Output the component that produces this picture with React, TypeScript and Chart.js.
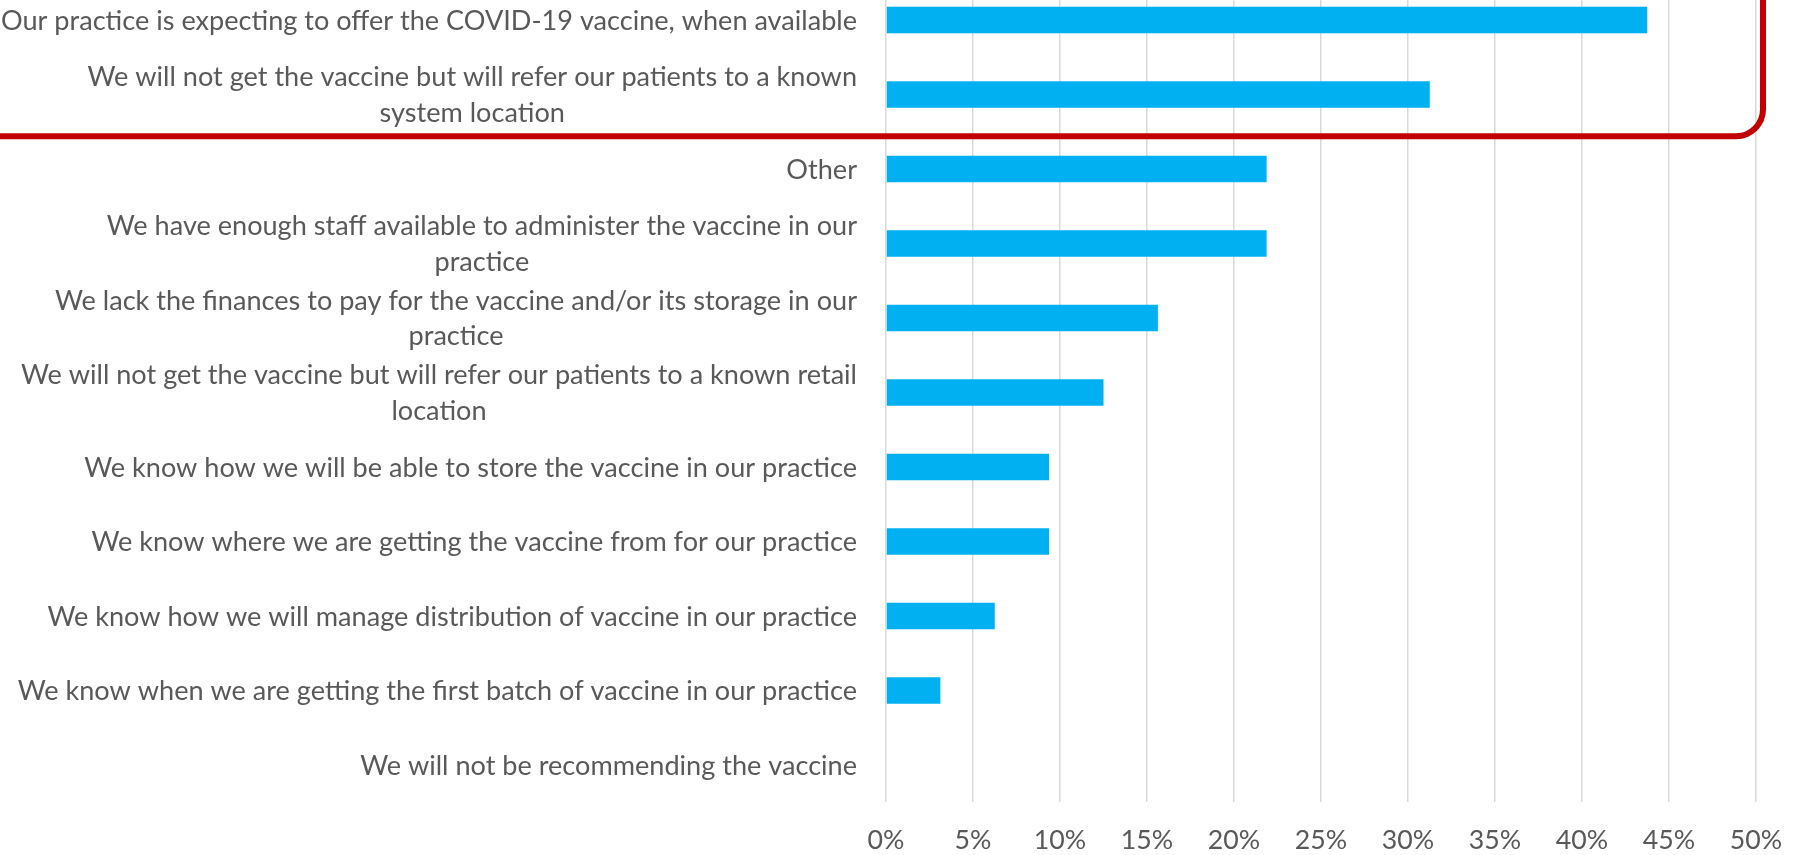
import React, { useEffect, useRef } from "react";
import { Chart, registerables } from "chart.js";

Chart.register(...registerables);

// ---------- data ----------
const categories: string[][] = [
  ["Our practice is expecting to offer the COVID-19 vaccine, when available"],
  ["We will not get the vaccine but will refer our patients to a known", "system location"],
  ["Other"],
  ["We have enough staff available to administer the vaccine in our", "practice"],
  ["We lack the finances to pay for the vaccine and/or its storage in our", "practice"],
  ["We will not get the vaccine but will refer our patients to a known retail", "location"],
  ["We know how we will be able to store the vaccine in our practice"],
  ["We know where we are getting the vaccine from for our practice"],
  ["We know how we will manage distribution of vaccine in our practice"],
  ["We know when we are getting the first batch of vaccine in our practice"],
  ["We will not be recommending the vaccine"],
];
const values: number[] = [43.75, 31.25, 21.875, 21.875, 15.625, 12.5, 9.375, 9.375, 6.25, 3.125, 0];
const xTickValues: number[] = [0, 5, 10, 15, 20, 25, 30, 35, 40, 45, 50];
const xTickLabels: string[] = ["0%", "5%", "10%", "15%", "20%", "25%", "30%", "35%", "40%", "45%", "50%"];

// ---------- style ----------
const W = 1799;
const H = 855;
const OFF = 40; // canvas shifted up so the plot starts above the page
const FONT = "Lato";
const FS = 27.1;
const TICK_FS = 26.7;
const TEXT = "#595959";
const BAR = "#00B0F0";
const GRID = "#D9D9D9";
const RED = "#C00000";

const catLabelPlugin = {
  id: "catLabels",
  afterDraw(chart: any) {
    const ctx = chart.ctx;
    const ys = chart.scales.y;
    ctx.save();
    ctx.font = `${FS}px ${FONT}`;
    ctx.fillStyle = TEXT;
    ctx.textAlign = "center";
    ctx.textBaseline = "alphabetic";
    const rightX = chart.chartArea.left - 29;
    const LH = 35.6;
    (chart.data.labels as any[]).forEach((lab, i) => {
      const lines: string[] = Array.isArray(lab) ? lab : [lab];
      const cy = ys.getPixelForValue(i);
      const w = Math.max(...lines.map((l) => ctx.measureText(l).width));
      const cx = rightX - w / 2;
      lines.forEach((l, j) => {
        ctx.fillText(l, cx, cy + 9.5 + (j - (lines.length - 1) / 2) * LH);
      });
    });
    ctx.restore();
  },
};

const boxPlugin = {
  id: "redBox",
  afterDraw(chart: any) {
    const ctx = chart.ctx;
    ctx.save();
    ctx.strokeStyle = RED;
    ctx.lineWidth = 6;
    ctx.beginPath();
    const left = -30;
    const top = OFF - 40;
    const right = 1763;
    const bottom = OFF + 136.3;
    (ctx as any).roundRect(left, top, right - left, bottom - top, 27);
    ctx.stroke();
    ctx.restore();
  },
};

export default function App() {
  const ref = useRef<HTMLCanvasElement | null>(null);
  useEffect(() => {
    if (!ref.current) return;
    const chart = new Chart(ref.current, {
      type: "bar",
      data: {
        labels: categories as any,
        datasets: [
          {
            data: values,
            backgroundColor: BAR,
            borderWidth: 0,
            barPercentage: 0.357,
            categoryPercentage: 1,
          },
        ],
      },
      options: {
        indexAxis: "y",
        animation: false,
        responsive: false,
        devicePixelRatio: 1,
        layout: { padding: { top: 22.75, left: 0, right: W - 1756, bottom: 0 } },
        plugins: { legend: { display: false }, tooltip: { enabled: false } },
        scales: {
          x: {
            type: "linear",
            position: "bottom",
            min: 0,
            max: 50,
            afterBuildTicks: (scale: any) => {
              scale.ticks = xTickValues.map((v) => ({ value: v }));
            },
            afterFit: (scale: any) => {
              scale.height = 52.75;
              scale.paddingLeft = 0;
              scale.paddingRight = 0;
            },
            grid: { color: GRID, lineWidth: 1.5, drawTicks: false },
            border: { display: false },
            ticks: {
              padding: 22,
              color: TEXT,
              font: { family: FONT, size: TICK_FS },
              maxRotation: 0,
              autoSkip: false,
              callback: (_v: any, i: number) => xTickLabels[i],
            },
          },
          y: {
            type: "category",
            afterFit: (scale: any) => {
              scale.width = 886;
              scale.paddingTop = 0;
              scale.paddingBottom = 0;
            },
            grid: { display: false },
            border: { display: false },
            ticks: { display: false },
          },
        },
      },
      plugins: [catLabelPlugin, boxPlugin],
    });
    return () => chart.destroy();
  }, []);

  return (
    <div
      style={{
        position: "fixed",
        left: 0,
        top: 0,
        width: W,
        height: H,
        overflow: "hidden",
        background: "#fff",
      }}
    >
      <canvas
        ref={ref}
        width={W}
        height={H + OFF}
        style={{ position: "absolute", left: 0, top: -OFF, width: W, height: H + OFF }}
      />
    </div>
  );
}
